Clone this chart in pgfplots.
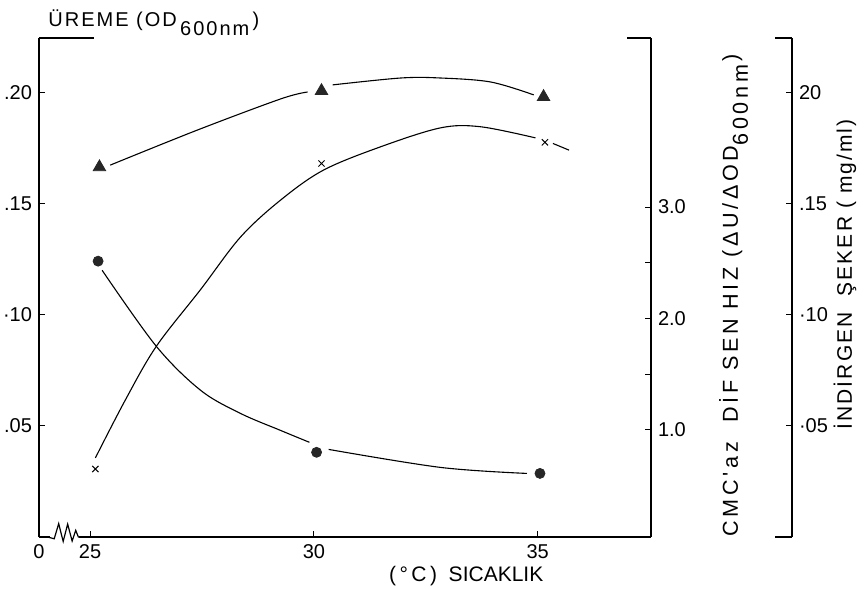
\documentclass[border=0pt]{standalone}
\usepackage{fontspec}
\setmainfont{Liberation Sans}
\newfontfamily\lblfont[LetterSpace=17]{Liberation Sans}
\newfontfamily\lblfontt[LetterSpace=10]{Liberation Sans}
\usepackage{pgfplots}
\pgfplotsset{compat=1.18}

% one px of the reference = 0.5pt
\pgfplotsset{
  chartbase/.style={
    scale only axis, width=306pt, height=249.5pt,
    xmin=23.86, xmax=37.53,
    ymin=0, ymax=0.2245,
    axis line style={line width=0.6pt, -},
    tick style={line width=0.5pt, black},
    major tick length=3pt, minor tick length=3pt,
    tick align=inside,
    ticklabel style={font=\fontsize{10}{12}\selectfont},
    /pgf/number format/assume math mode=true,
    clip=false,
  },
  curve/.style={black, line width=0.55pt, smooth, tension=0.55},
}

\begin{document}
\begin{tikzpicture}
% growth (left axis)
\begin{axis}[chartbase,
  axis x line*=bottom, axis y line*=left,
  xtick={25,30,35}, xticklabels={25,30,35},
  extra x ticks={23.86}, extra x tick labels={0},
  extra x tick style={major tick length=0pt},
  ytick={0.05,0.10,0.15,0.20}, yticklabels={.05,·10,.15,.20},
]
\addplot[curve] coordinates {(25.45,0.1673)(27.40,0.1831)(29.26,0.1971)(29.86,0.2002)};
\addplot[curve] coordinates {(30.42,0.2034)(31.94,0.2065)(32.83,0.2065)(33.95,0.2047)(34.91,0.1989)};
\addplot[only marks, mark=triangle*, mark size=3.6pt, black!85]
  coordinates {(25.21,0.1664)(30.17,0.2007)(35.13,0.1980)};
% axis break and top stub
\draw[white, line width=2pt] (axis cs:24.10,0) -- (axis cs:24.76,0);
\draw[black, line width=0.6pt] (axis cs:24.05,0) -- (axis cs:24.20,-0.0008)
  -- (axis cs:24.30,0.0060) -- (axis cs:24.40,-0.0020) -- (axis cs:24.50,0.0058)
  -- (axis cs:24.60,-0.0018) -- (axis cs:24.68,0.0030) -- (axis cs:24.74,0) -- (axis cs:24.80,0);
\draw[line width=0.6pt] (rel axis cs:0,1) -- ([xshift=27.5pt]rel axis cs:0,1);
\node[anchor=base west, inner sep=0, font=\lblfontt\fontsize{10}{12}\selectfont]
  at ([xshift=4.5pt, yshift=5.5pt]rel axis cs:0,1)
  {ÜREME (OD\,\raisebox{-4.5pt}{600nm}\,)};
\node[anchor=base, inner sep=0, font=\fontsize{10.5}{12}\selectfont]
  at ([yshift=-22.5pt]rel axis cs:0.698,0) {(\,°\,C\,)\ \ SICAKLIK};
\node[anchor=base west, inner sep=0, rotate=90, font=\lblfont\fontsize{10.8}{12}\selectfont]
  at ([xshift=43.5pt]rel axis cs:1,0)
  {CMC'az\ \ DİF SEN HIZ (ΔU/ΔOD\raisebox{-5pt}{600nm}\,)};
\node[anchor=base west, inner sep=0, rotate=90, font=\lblfontt\fontsize{10.5}{12}\selectfont]
  at ([xshift=100.5pt, yshift=53.5pt]rel axis cs:1,0)
  {İNDİRGEN\ \ ŞEKER ( mg/ml)};
\end{axis}

% CMCase rate (first right axis)
\begin{axis}[chartbase,
  hide x axis, axis y line*=right,
  ymin=0.04, ymax=4.516,
  ytick={1,2,3}, yticklabels={1.0,2.0,3.0},
  minor ytick={1.5,2.5},
]
\addplot[curve] coordinates {(25.12,0.75)(25.79,1.27)(26.48,1.75)(27.47,2.26)(28.36,2.73)
  (29.25,3.06)(30.21,3.33)(31.49,3.54)(32.83,3.71)(33.72,3.72)(34.95,3.62)};
\addplot[curve] coordinates {(35.34,3.57)(35.70,3.51)};
\addplot[only marks, mark=x, mark size=2.2pt, line width=0.5pt, black]
  coordinates {(25.12,0.65)(30.17,3.39)(35.16,3.58)};
\draw[line width=0.6pt] (rel axis cs:1,1) -- ([xshift=-12pt]rel axis cs:1,1);
\end{axis}

% reducing sugar: its scale is drawn further right, the data in the plot frame
\begin{axis}[chartbase, hide axis]
\addplot[curve] coordinates {(25.27,0.1200)(26.48,0.0858)(27.47,0.0660)(28.36,0.0556)
  (29.25,0.0480)(29.90,0.0426)};
\addplot[curve] coordinates {(30.33,0.0394)(32.83,0.0313)(34.76,0.0286)};
\addplot[only marks, mark=*, mark size=2.5pt, black!85]
  coordinates {(25.18,0.1241)(30.06,0.0381)(35.05,0.0286)};
\end{axis}

\begin{axis}[chartbase, xshift=70.5pt,
  hide x axis, axis y line*=right,
  ytick={0.05,0.10,0.15,0.20}, yticklabels={·05,·10,.15,20},
]
\draw[line width=0.6pt] (rel axis cs:1,1) -- ([xshift=-8.5pt]rel axis cs:1,1);
\draw[line width=0.6pt] (rel axis cs:1,0) -- ([xshift=-8.5pt]rel axis cs:1,0);
\end{axis}

\pgfresetboundingbox
\path[use as bounding box] (-19.5pt,-26pt) rectangle (412.5pt,268.5pt);
\end{tikzpicture}
\end{document}
